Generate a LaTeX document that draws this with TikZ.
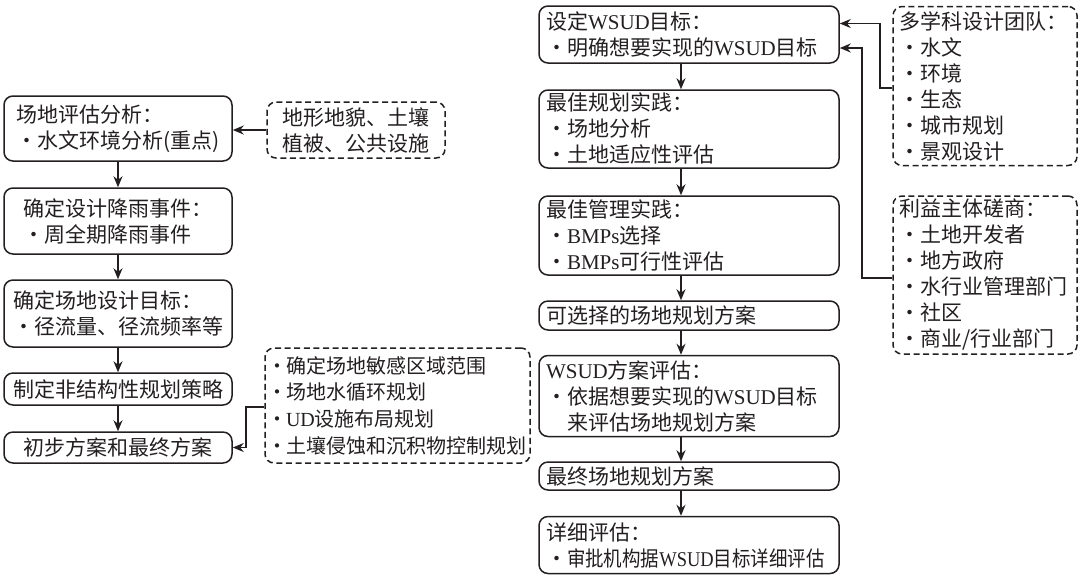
\documentclass[tikz,border=0pt]{standalone}
\usepackage{fontspec}
\usepackage{graphicx}
\setmainfont{Noto Sans CJK SC}
\newfontfamily\latf{Liberation Serif}
\usetikzlibrary{arrows.meta,calc}
\definecolor{ink}{HTML}{231F20}
\newcommand{\bul}{\makebox[1em][c]{·}}
\newcommand{\sbul}{\makebox[0.85em][c]{·}}
\newcommand{\wsud}{{\latf WSUD}}
\newcommand{\bmps}{{\latf BMPs}}
\begin{document}
\begin{tikzpicture}[x=0.5pt,y=-0.5pt,
  every node/.style={font=\fontsize{10.5}{13}\selectfont, text=ink},
  box/.style={draw=ink, line width=0.75pt, rounded corners=4.5pt, inner ysep=0pt, inner xsep=3.5pt, align=left},
  dbox/.style={box, dash pattern=on 3pt off 1.8pt},
  arr/.style={draw=ink, line width=0.8pt, -{Stealth[length=5.5pt,width=4.5pt]}}]
\useasboundingbox (0,0) rectangle (1080,580);

% left column
\node[box, minimum width=114pt, minimum height=32.5pt] (A) at (118,128.5) {场地评估分析：\\\bul 水文环境分析(重点)};
\node[box, minimum width=114pt, minimum height=33pt] (B) at (118,221) {确定设计降雨事件：\\\bul 周全期降雨事件};
\node[box, minimum width=114pt, minimum height=33.5pt] (C) at (118,313.5) {确定场地设计目标：\\\bul 径流量、径流频率等};
\node[box, minimum width=114pt, minimum height=16pt] (D) at (118,389) {制定非结构性规划策略};
\node[box, minimum width=114pt, minimum height=15.5pt, align=center] (E) at (118,447.5) {初步方案和最终方案};

\node[dbox, minimum width=89pt, minimum height=28pt, align=center] (D1) at (356,130) {地形地貌、土壤\\植被、公共设施};
\node[dbox, font=\fontsize{10}{13.35}\selectfont, text width=128.5pt, inner xsep=2pt, minimum height=57.5pt] (D2) at (397.5,405.5)
  {\sbul 确定场地敏感区域范围\\\sbul 场地水循环规划\\\sbul {\latf UD}设施布局规划\\\sbul 土壤侵蚀和沉积物控制规划};

\draw[arr] (D1.west) -- (D1.west -| A.east);
\draw[arr] (A.south) -- (B.north);
\draw[arr] (B.south) -- (C.north);
\draw[arr] (C.south) -- (D.north);
\draw[arr] (D.south) -- (E.north);
\draw[arr] ([yshift=-0.75pt]D2.west) -- ++(-9pt,0) |- (E.east);

% right column
\node[box, text width=143pt, minimum height=28.5pt] (R1) at (689,34.5) {设定\wsud 目标：\\\bul 明确想要实现的\wsud 目标};
\node[box, text width=143pt, minimum height=39pt] (R2) at (689,129) {最佳规划实践：\\\bul 场地分析\\\bul 土地适应性评估};
\node[box, text width=143pt, minimum height=39.5pt] (R3) at (689,235.5) {最佳管理实践：\\\bul \bmps 选择\\\bul \bmps 可行性评估};
\node[box, text width=143pt, minimum height=14.5pt] (R4) at (689,315.5) {可选择的场地规划方案};
\node[box, text width=143pt, minimum height=40.5pt] (R5) at (689,396) {\wsud 方案评估：\\\bul 依据想要实现的\wsud 目标\\\hspace*{1em}来评估场地规划方案};
\node[box, text width=143pt, minimum height=14pt] (R6) at (689,476) {最终场地规划方案};
\node[box, text width=143pt, minimum height=28.5pt] (R7) at (689,545) {详细评估：\\\bul\scalebox{0.88}[1]{审批机构据\wsud 目标详细评估}};

\node[dbox, text width=86pt, inner xsep=3pt, minimum height=79.5pt] (D3) at (985,86) {多学科设计团队：\\\bul 水文\\\bul 环境\\\bul 生态\\\bul 城市规划\\\bul 景观设计};
\node[dbox, text width=86pt, inner xsep=3pt, minimum height=79pt] (D4) at (985,275) {利益主体磋商：\\\bul 土地开发者\\\bul 地方政府\\\bul 水行业管理部门\\\bul 社区\\\bul 商业/行业部门};

\draw[arr] ([xshift=-4pt]R1.south) -- ([xshift=-4pt]R2.north);
\draw[arr] ([xshift=-4pt]R2.south) -- ([xshift=-4pt]R3.north);
\draw[arr] ([xshift=-4pt]R3.south) -- ([xshift=-4pt]R4.north);
\draw[arr] ([xshift=-4pt]R4.south) -- ([xshift=-4pt]R5.north);
\draw[arr] ([xshift=-4pt]R5.south) -- ([xshift=-4pt]R6.north);
\draw[arr] ([xshift=-4pt]R6.south) -- ([xshift=-4pt]R7.north);

\draw[arr] ([yshift=-1pt]D3.west) -- ++(-6pt,0) |- ([yshift=5.5pt]R1.east);
\draw[arr] ([yshift=-1.5pt]D4.west) -- ++(-15pt,0) |- ([yshift=-6.75pt]R1.east);
\end{tikzpicture}
\end{document}
